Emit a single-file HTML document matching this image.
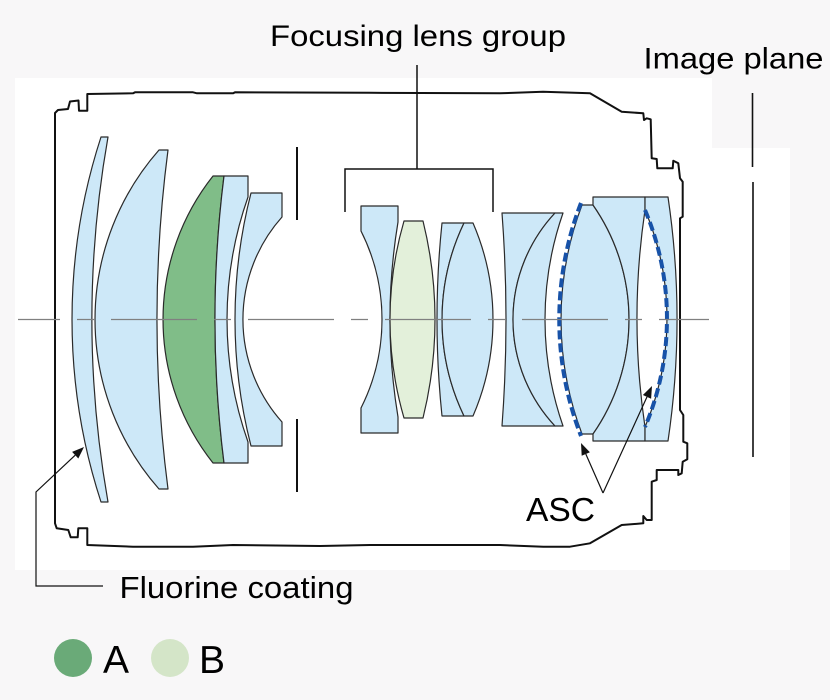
<!DOCTYPE html>
<html>
<head>
<meta charset="utf-8">
<style>
html,body{margin:0;padding:0;background:#f8f7f8;}
svg{display:block;}
text{font-family:"Liberation Sans",Arial,sans-serif;fill:#000;}
</style>
</head>
<body>
<svg width="830" height="700" viewBox="0 0 830 700" xmlns="http://www.w3.org/2000/svg">
  <rect x="0" y="0" width="830" height="700" fill="#f8f7f8"/>
  <!-- white panel -->
  <path d="M15,78 H712 V148 H790 V570 H15 Z" fill="#ffffff"/>

  <!-- labels -->
  <text x="270" y="46" font-size="30" textLength="296" lengthAdjust="spacingAndGlyphs">Focusing lens group</text>
  <text x="643.5" y="68.5" font-size="30" textLength="180" lengthAdjust="spacingAndGlyphs">Image plane</text>
  <text x="119.5" y="598" font-size="31" textLength="234" lengthAdjust="spacingAndGlyphs">Fluorine coating</text>
  <text x="526" y="521" font-size="33" textLength="69" lengthAdjust="spacingAndGlyphs">ASC</text>

  <!-- legend -->
  <circle cx="73" cy="658" r="19" fill="#6aaa78"/>
  <text x="103" y="673" font-size="39">A</text>
  <circle cx="170" cy="658" r="19" fill="#d4e5c8"/>
  <text x="199" y="673" font-size="39">B</text>

  <!-- barrel -->
  <path d="M55,113 L58,110 L68,109 L70,101.5 L78.5,100.5 L79,110.7 L87.3,110.7 L87.3,94 L133,93.3 L135,92.3 L193,92.3 L197,93.3 L233,93.3 L235,92.3 L370,92.8 L500,93.3 L543,91.7 L590,93.3 L621.7,111.7 L643.3,113.3 L644,120 L646.7,118.3 L650.7,119.3 L651.7,158.3 L656.7,159 L657.3,168.3 L672.7,168.3 L673.3,160.7 L678.3,163.3 L680,178.3 L682.7,181.7 L682.7,216.7 L680,218.3 L680,410 L683.3,415 L683.3,441.7 L687.3,443.3 L687.3,459.3 L682.7,461.7 L681.7,473.3 L678.3,475 L678.3,470 L656.7,470 L656.7,480 L651.7,481.7 L651.7,520 L646.7,520 L643.3,516 L643.3,523.3 L621.7,525 L590,543.3 L570,546.7 L543.3,546.7 L500,545 L370,545 L320,546 L233,545 L193,546.7 L133,546.7 L87.3,545 L87.3,528.3 L78.3,528.3 L77.7,537.3 L70.7,537.3 L68.3,530 L56.7,528.3 L55,523.3 Z" fill="none" stroke="#111" stroke-width="2" stroke-linejoin="round"/>

  <!-- lenses -->
  <g stroke="#2a2a2a" stroke-width="1.2" stroke-linejoin="round">
    <path d="M101,137 H108 A1049,1049 0 0 0 108,502 H101 A589,589 0 0 1 101,137 Z" fill="#cde8f8"/>
    <path d="M159,150 H168 A1311,1311 0 0 0 168,489 H159 A256.5,256.5 0 0 1 159,150 Z" fill="#cde8f8"/>
    <path d="M213,176 H224 A1148,1148 0 0 0 224,463 H213 A231,231 0 0 1 213,176 Z" fill="#80bd88"/>
    <path d="M224,176 H248 V197 A368,368 0 0 0 248,442 V463 H224 A1148,1148 0 0 1 224,176 Z" fill="#cde8f8"/>
    <path d="M251,193 H282 V217 A154,154 0 0 0 282,422 V446 H251 A508,508 0 0 1 251,193 Z" fill="#cde8f8"/>

    <path d="M361,206 H398 V222 A598,598 0 0 0 398,417 V433 H361 V408 A197,197 0 0 0 361,231 Z" fill="#cde8f8"/>
    <path d="M404,221 H423 A410,410 0 0 1 423,418 H404 A353,353 0 0 1 404,221 Z" fill="#e3f0da"/>
    <path d="M442,223 H464 A223,223 0 0 0 464,416 H442 A934,934 0 0 1 442,223 Z" fill="#cde8f8"/>
    <path d="M464,223 H473 A243,243 0 0 1 473,416 H464 A223,223 0 0 1 464,223 Z" fill="#cde8f8"/>

    <path d="M502,213 H555 A156,156 0 0 0 555,426 H502 A1420,1420 0 0 0 502,213 Z" fill="#cde8f8"/>
    <path d="M555,213 H563 A324,324 0 0 0 563,426 H555 A156,156 0 0 1 555,213 Z" fill="#cde8f8"/>

    <path d="M582,205 H593 A200,200 0 0 1 593,434 H582 A323,323 0 0 1 582,205 Z" fill="#cde8f8"/>
    <path d="M593,197 H645 V210 A740,740 0 0 0 645,427 V441 H593 V434 A200,200 0 0 0 593,205 Z" fill="#cde8f8"/>
    <path d="M645,197 H668 A831,831 0 0 1 668,441 H645 V427 A279,279 0 0 0 645,210 Z" fill="#cde8f8"/>
  </g>

  <!-- ASC dashed surfaces -->
  <g fill="none" stroke="#1752a8" stroke-width="4" stroke-dasharray="9 4">
    <path d="M581,203 A323,323 0 0 0 581,436"/>
    <path d="M645,210 A279,279 0 0 1 645,427"/>
  </g>

  <!-- optical axis -->
  <line x1="18" y1="319.5" x2="709" y2="319.5" stroke="#808080" stroke-width="1.2" stroke-dasharray="86 17 17 17" stroke-dashoffset="44"/>

  <!-- aperture stop -->
  <g stroke="#111" stroke-width="2">
    <line x1="297" y1="147" x2="297" y2="220"/>
    <line x1="297" y1="419" x2="297" y2="492"/>
  </g>

  <!-- focusing bracket -->
  <path d="M345,212 V169 H493 V212 M417,65 V169" fill="none" stroke="#111" stroke-width="1.5"/>

  <!-- image plane -->
  <g stroke="#111" stroke-width="1.6">
    <line x1="752.5" y1="93" x2="752.5" y2="167"/>
    <line x1="753" y1="182" x2="753" y2="457"/>
  </g>

  <!-- fluorine coating leader -->
  <path d="M103,586 H36 V492 L75.2,455.2" fill="none" stroke="#111" stroke-width="1.2"/>
  <polygon points="84,447 78.3,458.5 72.1,451.9" fill="#111"/>

  <!-- ASC arrows -->
  <path d="M603,493 L585.8,454 M603,493 L647,396.9" fill="none" stroke="#111" stroke-width="1.2"/>
  <polygon points="581,443 589.9,452.2 581.7,455.8" fill="#111"/>
  <polygon points="652,386 651.1,398.8 642.9,395" fill="#111"/>
</svg>
</body>
</html>
